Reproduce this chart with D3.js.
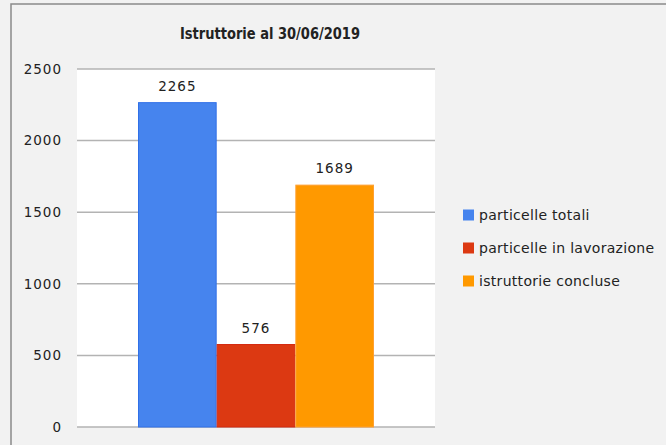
<!DOCTYPE html>
<html>
<head>
<meta charset="utf-8">
<title>Istruttorie al 30/06/2019</title>
<script src="https://cdn.jsdelivr.net/npm/d3@7"></script>
<style>
  body { margin: 0; background: #f2f2f2; }
  text { font-family: "DejaVu Sans", Verdana, sans-serif; fill: #222; }
</style>
</head>
<body>
<script>

// data
var series = ["particelle totali", "particelle in lavorazione", "istruttorie concluse"];
var values = [2265, 576, 1689];
var colors = ["#4684ee", "#dc3912", "#ff9900"];
var strokes = ["#3070e8", "#d42a10", "#ffa030"];
var yTicks = [0, 500, 1000, 1500, 2000, 2500];

var w = 666;
var h = 445;

var svg = d3.select("body")
  .append("svg")
  .attr("width", w)
  .attr("height", h);

// outer frame (only top and left show)
svg.append("rect")
  .attr("x", 11)
  .attr("y", 4)
  .attr("width", 700)
  .attr("height", 500)
  .attr("fill", "#f2f2f2")
  .attr("stroke", "#8a8a8a")
  .attr("stroke-width", 1.5);

var plotLeft = 77, plotRight = 435;

var y = d3.scaleLinear()
  .domain([0, 2500])
  .range([427, 69]);

var x = d3.scaleBand()
  .domain(series)
  .range([138, 374])
  .padding(0);

// plot area
svg.append("rect")
  .attr("x", plotLeft)
  .attr("y", y(2500))
  .attr("width", plotRight - plotLeft)
  .attr("height", y(0) - y(2500))
  .attr("fill", "#fff");

// gridlines
svg.selectAll("line.grid")
  .data(yTicks)
  .enter()
  .append("line")
  .attr("class", "grid")
  .attr("x1", plotLeft)
  .attr("x2", plotRight)
  .attr("y1", function(d){ return y(d); })
  .attr("y2", function(d){ return y(d); })
  .attr("stroke", "#b3b3b3")
  .attr("stroke-width", 1.5);

// y axis labels
var yAxis = d3.axisLeft(y)
  .tickValues(yTicks)
  .tickFormat(d3.format("d"))
  .tickSize(0)
  .tickPadding(0);

var ag = svg.append("g")
  .attr("transform", "translate(62,0)")
  .call(yAxis);
ag.select(".domain").remove();
ag.selectAll("text")
  .attr("font-size", "13.5px")
  .attr("letter-spacing", "1px")
  .attr("font-family", "DejaVu Sans, Verdana, sans-serif")
  .attr("fill", "#222");

// bars
svg.selectAll("rect.bar")
  .data(values)
  .enter()
  .append("rect")
  .attr("class", "bar")
  .attr("x", function(d, i){ return x(series[i]) + 0.5; })
  .attr("y", function(d){ return y(d); })
  .attr("width", x.bandwidth() - 1)
  .attr("height", function(d){ return y(0) - y(d); })
  .attr("fill", function(d, i){ return colors[i]; })
  .attr("stroke", function(d, i){ return strokes[i]; })
  .attr("stroke-width", 1);

// value labels
svg.selectAll("text.val")
  .data(values)
  .enter()
  .append("text")
  .attr("class", "val")
  .text(function(d){ return d; })
  .attr("x", function(d, i){ return x(series[i]) + x.bandwidth() / 2; })
  .attr("y", function(d){ return y(d) - 12; })
  .attr("text-anchor", "middle")
  .attr("letter-spacing", "1px")
  .attr("font-size", "13.5px");

// title
svg.append("text")
  .attr("x", 180)
  .attr("y", 39)
  .attr("font-family", "Liberation Sans, Arial, sans-serif")
  .attr("font-weight", "bold")
  .attr("font-size", "16px")
  .attr("textLength", 180)
  .attr("lengthAdjust", "spacingAndGlyphs")
  .text("Istruttorie al 30/06/2019");

// legend
var lg = svg.selectAll("g.leg")
  .data(series)
  .enter()
  .append("g")
  .attr("class", "leg")
  .attr("transform", function(d, i){ return "translate(463," + (215 + i * 33) + ")"; });

lg.append("rect")
  .attr("x", 0)
  .attr("y", -5.5)
  .attr("width", 11)
  .attr("height", 11)
  .attr("fill", function(d, i){ return colors[i]; });

lg.append("text")
  .attr("x", 16)
  .attr("y", 5)
  .attr("font-size", "14px")
  .attr("letter-spacing", "0.3px")
  .text(function(d){ return d; });

</script>
</body>
</html>
